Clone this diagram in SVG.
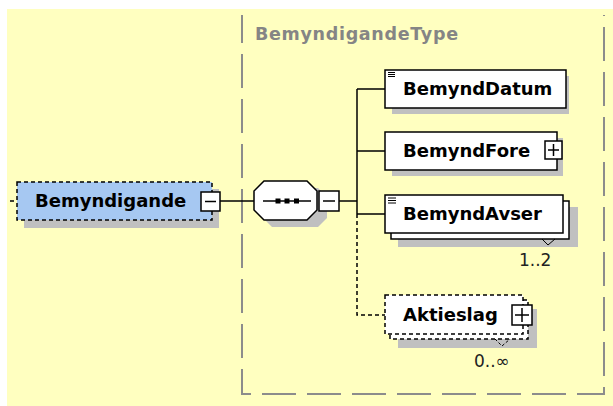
<svg xmlns="http://www.w3.org/2000/svg" width="613" height="406" viewBox="0 0 613 406">
<style>
text{font-family:"DejaVu Sans","Liberation Sans",sans-serif}
.nm{font-weight:bold;font-size:18px;fill:#000}
.card{font-size:17px;fill:#222}
.sh{fill:#c0c0c0}
.box{fill:#fff;stroke:#000;stroke-width:1.5}
.dbox{fill:#fff;stroke:#000;stroke-width:1.5;stroke-dasharray:4 3}
.ln{stroke:#000;stroke-width:1.5;fill:none}
.dln{stroke:#000;stroke-width:1.5;fill:none;stroke-dasharray:4 3}
.btn{fill:#fff;stroke:#000;stroke-width:1.5}
</style>
<rect x="7" y="9" width="606" height="397" fill="#ffffc0"/>
<g id="BemyndigandeType">
<path d="M242,15 V394 H604 V15" fill="none" stroke="#8c8c8c" stroke-width="2" stroke-dasharray="34 11" stroke-dashoffset="6"/>
<text x="255" y="40" textLength="203" style="font-weight:bold;font-size:17.5px;fill:#858585">BemyndigandeType</text>
</g>
<g id="connectors">
<path class="dln" d="M10,201 H17"/>
<path class="ln" d="M220,201 H254"/>
<path class="ln" d="M339,201 H357"/>
<path class="ln" d="M357,89 V214"/>
<path class="ln" d="M357,89 H385 M357,151 H385 M357,214 H385"/>
<path class="dln" d="M357,214 V315 H385"/>
</g>
<g id="Bemyndigande">
<rect class="sh" x="24" y="189" width="195" height="39"/>
<rect x="17" y="182" width="195" height="38" fill="#a6c8f2" stroke="#000" stroke-width="1.5" stroke-dasharray="4 3"/>
<text class="nm" x="35" y="207">Bemyndigande</text>
<rect class="btn" x="201" y="192" width="19" height="19"/>
<path class="ln" d="M205,201.5 H216"/>
</g>
<g id="sequence">
<path class="sh" d="M272,188 H318 L327,197 V218 L318,227 H272 L263,218 V197 Z"/>
<path class="box" d="M264,181 H307 L317,191 V210 L307,220 H264 L254,210 V191 Z"/>
<path class="ln" d="M263,201 H311"/>
<rect x="275.5" y="198.5" width="5" height="5"/>
<rect x="284.5" y="198.5" width="5" height="5"/>
<rect x="294" y="198.5" width="5" height="5"/>
<rect class="btn" x="319" y="191" width="20" height="20"/>
<path class="ln" d="M323,201 H335"/>
</g>
<g id="BemyndDatum">
<rect class="sh" x="392" y="76" width="177" height="38"/>
<rect class="box" x="385" y="70" width="181" height="38"/>
<path d="M388,72.5 H395 M388,74.5 H395 M388,76.5 H395" stroke="#000" stroke-width="1"/>
<text class="nm" x="403" y="95">BemyndDatum</text>
</g>
<g id="BemyndFore">
<rect class="sh" x="392" y="138" width="171" height="38"/>
<rect class="box" x="385" y="132" width="172" height="38"/>
<text class="nm" x="403" y="157">BemyndFore</text>
<rect class="btn" x="545" y="141" width="17" height="18"/>
<path class="ln" d="M548,150 H559 M553.5,144 V156"/>
</g>
<g id="BemyndAvser">
<rect class="sh" x="398" y="207" width="180" height="40"/>
<rect class="box" x="391" y="201" width="178" height="38"/>
<rect class="box" x="385" y="195" width="178" height="38"/>
<path d="M388,198 H396 M388,200.5 H396 M388,203 H396" stroke="#000" stroke-width="1"/>
<text class="nm" x="403" y="220">BemyndAvser</text>
<path d="M542,239 L548,245 L555,239" fill="none" stroke="#000" stroke-width="1"/>
<text class="card" x="519" y="266">1..2</text>
</g>
<g id="Aktieslag">
<rect class="sh" x="398" y="309" width="139" height="39"/>
<rect class="dbox" x="390" y="300" width="138" height="39"/>
<rect class="dbox" x="385" y="295" width="138" height="39"/>
<text class="nm" x="403" y="321">Aktieslag</text>
<rect class="btn" x="512" y="305" width="20" height="20"/>
<path class="ln" d="M515,315 H529 M522,308 V322"/>
<path d="M495,339 L502,346 L510,339" fill="none" stroke="#000" stroke-width="1" stroke-dasharray="3 2"/>
<text class="card" x="474" y="367">0..∞</text>
</g>
</svg>
